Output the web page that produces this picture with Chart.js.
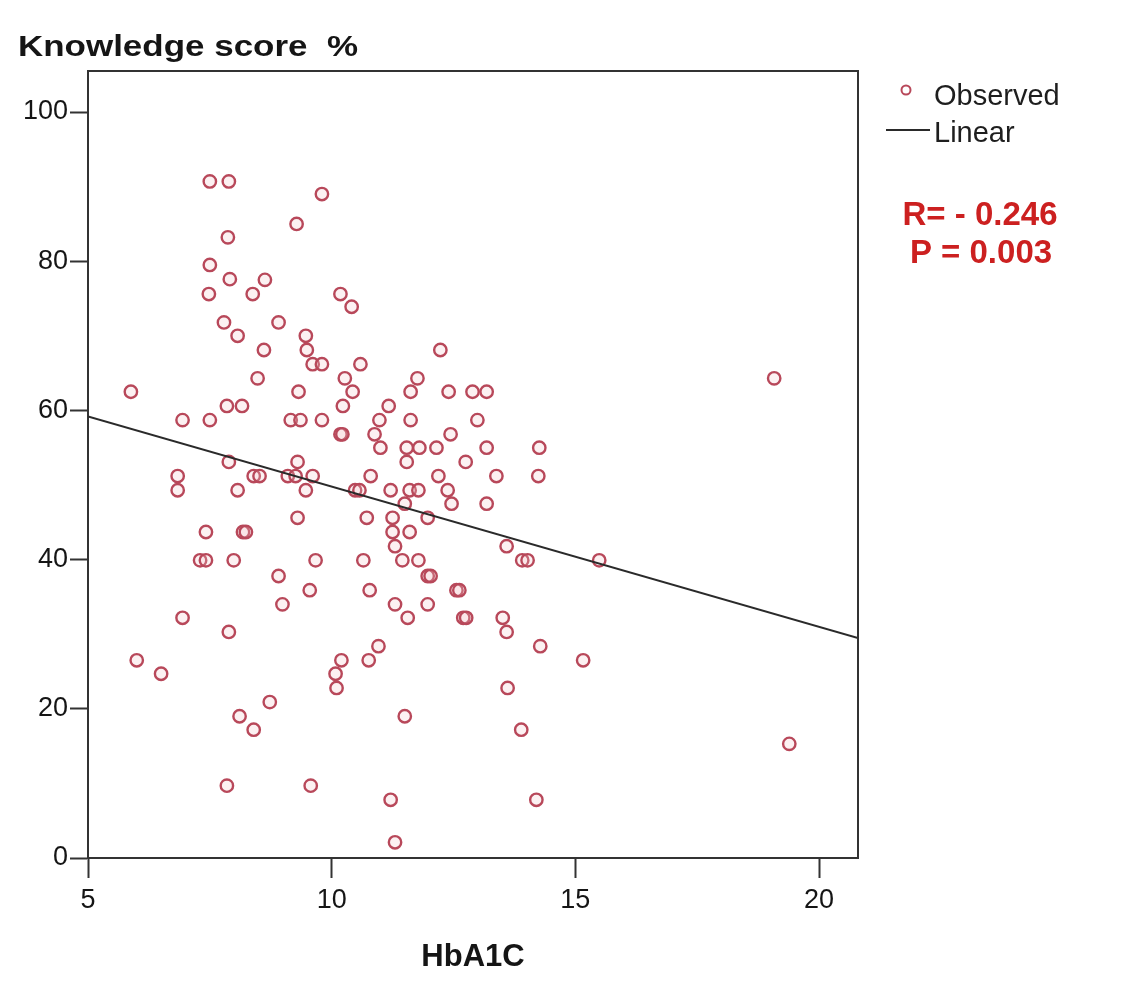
<!DOCTYPE html>
<html>
<head>
<meta charset="utf-8">
<title>Knowledge score vs HbA1C</title>
<script src="https://cdn.jsdelivr.net/npm/chart.js@4.4.1/dist/chart.umd.min.js"></script>
<style>
  html, body { margin: 0; padding: 0; background: #ffffff; }
  #wrap { width: 1138px; height: 1000px; }
</style>
</head>
<body>
<div id="wrap"><canvas id="chart" width="1138" height="1000"></canvas></div>
<script>
// HbA1C (%) per patient
const hba1c = [
  7.50, 7.89, 9.80, 9.28, 7.87, 7.50, 7.91, 8.63, 7.48, 8.38,
  10.18, 10.41, 7.79, 8.91, 9.47, 8.07, 8.61, 9.49, 12.23, 9.61,
  9.80, 10.59, 8.48, 10.27, 11.76, 19.08, 5.88, 9.32, 10.43, 11.62,
  12.40, 12.89, 13.18, 7.85, 8.16, 10.23, 11.17, 6.94, 7.50, 9.16,
  9.36, 9.80, 10.98, 11.62, 12.99, 10.18, 10.22, 10.88, 12.44, 11.00,
  11.54, 11.80, 12.15, 13.18, 14.26, 7.89, 9.30, 11.54, 12.75, 6.84,
  8.40, 8.52, 9.10, 9.26, 9.61, 10.80, 12.19, 13.38, 14.24, 6.84,
  8.07, 9.47, 10.48, 10.57, 11.21, 11.60, 11.78, 12.38, 12.46, 13.18,
  11.50, 9.30, 10.72, 11.25, 11.97, 7.42, 8.18, 8.24, 11.25, 11.60,
  11.30, 13.59, 7.30, 7.42, 7.99, 9.67, 10.65, 11.45, 11.78, 13.91,
  14.02, 15.49, 8.91, 11.97, 12.03, 9.55, 10.78, 12.56, 12.62, 8.99,
  11.30, 11.97, 6.94, 11.56, 12.70, 12.76, 13.51, 7.89, 13.59, 10.96,
  14.28, 6.00, 10.20, 10.76, 15.16, 6.50, 10.08, 10.10, 13.61, 8.73,
  8.11, 11.50, 8.40, 13.89, 19.39, 7.85, 9.57, 11.21, 14.20, 11.30
];

// Knowledge score (%) per patient, same order
const knowledge = [
  90.7, 90.7, 89.0, 85.0, 83.2, 79.5, 77.6, 77.5, 75.6, 75.6,
  75.6, 73.9, 71.8, 71.8, 70.0, 70.0, 68.1, 68.1, 68.1, 66.2,
  66.2, 66.2, 64.3, 64.3, 64.3, 64.3, 62.5, 62.5, 62.5, 62.5,
  62.5, 62.5, 62.5, 60.6, 60.6, 60.6, 60.6, 58.7, 58.7, 58.7,
  58.7, 58.7, 58.7, 58.7, 58.7, 56.8, 56.8, 56.8, 56.8, 55.0,
  55.0, 55.0, 55.0, 55.0, 55.0, 53.1, 53.1, 53.1, 53.1, 51.2,
  51.2, 51.2, 51.2, 51.2, 51.2, 51.2, 51.2, 51.2, 51.2, 49.3,
  49.3, 49.3, 49.3, 49.3, 49.3, 49.3, 49.3, 49.3, 47.5, 47.5,
  47.5, 45.6, 45.6, 45.6, 45.6, 43.7, 43.7, 43.7, 43.7, 43.7,
  41.8, 41.8, 39.9, 39.9, 39.9, 39.9, 39.9, 39.9, 39.9, 39.9,
  39.9, 39.9, 37.8, 37.8, 37.8, 35.9, 35.9, 35.9, 35.9, 34.0,
  34.0, 34.0, 32.2, 32.2, 32.2, 32.2, 32.2, 30.3, 30.3, 28.4,
  28.4, 26.5, 26.5, 26.5, 26.5, 24.7, 24.7, 22.8, 22.8, 20.9,
  19.0, 19.0, 17.2, 17.2, 15.3, 9.7, 9.7, 7.8, 7.8, 2.1
];

// Fitted linear trend, end points
const fitX = [5, 20.8];
const fitY = [59.2, 29.5];

// Axis tick values
const xTickValues = [5, 10, 15, 20];
const yTickValues = [0, 20, 40, 60, 80, 100];

// Legend and statistics text
const seriesNames = ['Observed', 'Linear'];
const statLines = ['R= - 0.246', 'P = 0.003'];
const yAxisTitle = 'Knowledge score  %';
const xAxisTitle = 'HbA1C';

const POINT_COLOR = '#b8485a';
const POINT_FILL = 'rgba(245,200,205,0.25)';
const LINE_COLOR = '#2a2a2a';
const AXIS_COLOR = '#333333';
const TEXT_COLOR = '#151515';
const FONT = '"Liberation Sans", Arial, sans-serif';

const observed = hba1c.map((x, i) => ({ x, y: knowledge[i] }));
const fitted = fitX.map((x, i) => ({ x, y: fitY[i] }));

const decorations = {
  id: 'decorations',
  beforeDraw(chart) {
    const ctx = chart.ctx;
    ctx.save();
    ctx.fillStyle = '#ffffff';
    ctx.fillRect(0, 0, chart.width, chart.height);
    ctx.restore();
  },
  afterDraw(chart) {
    const { ctx, chartArea: a } = chart;
    ctx.save();
    // top and right sides of the plot frame
    ctx.strokeStyle = AXIS_COLOR;
    ctx.lineWidth = 2;
    ctx.beginPath();
    ctx.moveTo(a.left, a.top);
    ctx.lineTo(a.right, a.top);
    ctx.lineTo(a.right, a.bottom);
    ctx.stroke();

    // vertical axis title, set horizontally above the axis
    ctx.fillStyle = TEXT_COLOR;
    ctx.font = 'bold 30px ' + FONT;
    ctx.textBaseline = 'middle';
    ctx.textAlign = 'left';
    const tw = ctx.measureText(yAxisTitle).width;
    ctx.save();
    ctx.translate(18, 48);
    ctx.scale(340 / tw, 1);
    ctx.fillText(yAxisTitle, 0, 0);
    ctx.restore();

    // legend
    const ds = chart.data.datasets;
    ctx.font = '29px ' + FONT;
    ctx.textAlign = 'left';
    ctx.textBaseline = 'middle';
    ctx.strokeStyle = ds[0].borderColor;
    ctx.lineWidth = 2;
    ctx.beginPath();
    ctx.arc(906, 90, 4.5, 0, Math.PI * 2);
    ctx.stroke();
    ctx.fillStyle = '#1e1e1e';
    ctx.fillText(ds[0].label, 934, 97);
    ctx.strokeStyle = ds[1].borderColor;
    ctx.lineWidth = 2;
    ctx.beginPath();
    ctx.moveTo(886, 130);
    ctx.lineTo(930, 130);
    ctx.stroke();
    ctx.fillText(ds[1].label, 934, 134);

    // correlation statistics
    ctx.fillStyle = '#cc2020';
    ctx.font = 'bold 33px ' + FONT;
    ctx.textAlign = 'center';
    ctx.fillText(statLines[0], 980, 216);
    ctx.fillText(statLines[1], 981, 254);
    ctx.restore();
  }
};

new Chart(document.getElementById('chart'), {
  type: 'scatter',
  data: {
    datasets: [
      {
        label: seriesNames[0],
        data: observed,
        showLine: false,
        pointStyle: 'circle',
        pointRadius: 6.2,
        pointHoverRadius: 6.2,
        pointBorderWidth: 2.4,
        borderColor: POINT_COLOR,
        pointBorderColor: POINT_COLOR,
        pointBackgroundColor: POINT_FILL,
        order: 2
      },
      {
        label: seriesNames[1],
        type: 'line',
        data: fitted,
        borderColor: LINE_COLOR,
        borderWidth: 2,
        pointRadius: 0,
        fill: false,
        order: 1
      }
    ]
  },
  options: {
    responsive: false,
    animation: false,
    devicePixelRatio: 1,
    layout: { padding: { left: 0, top: 71, right: 280, bottom: 0 } },
    plugins: {
      legend: { display: false },
      tooltip: { enabled: false },
      title: { display: false }
    },
    scales: {
      x: {
        type: 'linear',
        min: 5,
        max: 20.8,
        afterFit(s) { s.height = 142; },
        afterBuildTicks(s) { s.ticks = xTickValues.map(v => ({ value: v })); },
        grid: {
          drawOnChartArea: false,
          drawTicks: true,
          tickLength: 20,
          tickWidth: 2,
          tickColor: AXIS_COLOR
        },
        border: { display: true, color: AXIS_COLOR, width: 2 },
        ticks: {
          padding: 6,
          color: TEXT_COLOR,
          font: { family: FONT, size: 27 },
          maxRotation: 0
        },
        title: {
          display: true,
          text: xAxisTitle,
          color: TEXT_COLOR,
          font: { family: FONT, size: 31, weight: 'bold' },
          padding: { top: 0, bottom: 24 }
        }
      },
      y: {
        type: 'linear',
        min: 0,
        max: 105.5,
        afterFit(s) { s.width = 88; },
        afterBuildTicks(s) { s.ticks = yTickValues.map(v => ({ value: v })); },
        grid: {
          drawOnChartArea: false,
          drawTicks: true,
          tickLength: 18,
          tickWidth: 2,
          tickColor: AXIS_COLOR
        },
        border: { display: true, color: AXIS_COLOR, width: 2 },
        ticks: {
          padding: 2,
          color: TEXT_COLOR,
          font: { family: FONT, size: 27 }
        }
      }
    }
  },
  plugins: [decorations]
});
</script>
</body>
</html>
